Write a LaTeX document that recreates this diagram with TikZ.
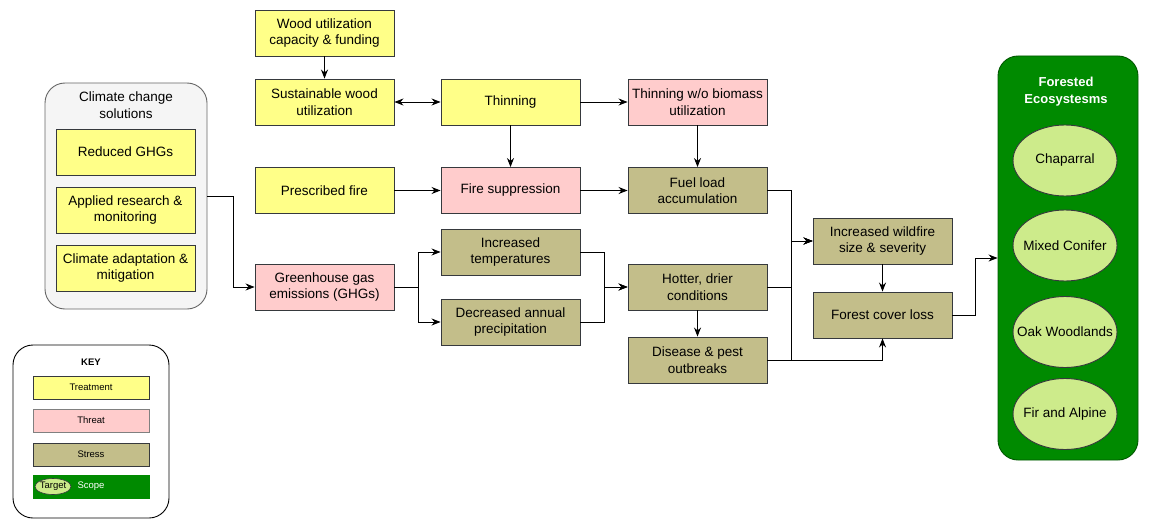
\documentclass[tikz,border=0pt]{standalone}
\usepackage{fontspec}
\setmainfont{Liberation Sans}
\usetikzlibrary{arrows.meta,shapes.geometric}
\definecolor{treatyellow}{HTML}{FFFF88}
\definecolor{threatpink}{HTML}{FFCCCC}
\definecolor{stresskhaki}{HTML}{C3BE8A}
\definecolor{scopegreen}{HTML}{008A00}
\definecolor{scopeline}{HTML}{005700}
\definecolor{targetgreen}{HTML}{CDEB8B}
\definecolor{boxline}{HTML}{36393D}
\definecolor{panelgray}{HTML}{F5F5F5}
\definecolor{panelline}{HTML}{666666}

\begin{document}
\begin{tikzpicture}[x=1pt, y=-1pt,
    font=\fontsize{13.5}{16.5}\selectfont,
    box/.style={draw=boxline, line width=0.9pt, minimum width=139pt, minimum height=46pt, align=center, inner sep=1pt},
    treatment/.style={box, fill=treatyellow},
    threat/.style={box, fill=threatpink},
    stress/.style={box, fill=stresskhaki},
    target/.style={ellipse, draw=boxline, line width=0.9pt, fill=targetgreen, minimum width=104pt, minimum height=71pt, inner sep=0pt},
    keybox/.style={draw=boxline, line width=0.8pt, minimum width=116pt, minimum height=23pt, inner sep=0pt, font=\fontsize{9.5}{11}\selectfont},
    arr/.style={-{Stealth[length=9pt,width=7pt]}, line width=0.9pt},
    dblarr/.style={{Stealth[length=9pt,width=7pt]}-{Stealth[length=9pt,width=7pt]}, line width=0.9pt}]
    \useasboundingbox (0,0) rectangle (1150,532);

    % Climate change solutions
    \node[draw=panelline, fill=panelgray, line width=0.9pt, rounded corners=20pt, minimum width=162pt, minimum height=226pt] (solpanel) at (126,196) {};
    \node[align=center] (soltitle) at (126,105) {Climate change\\solutions};
    \node[treatment] (reduced) at (125.5,152) {Reduced GHGs};
    \node[treatment] (research) at (125.5,210) {Applied research \&\\monitoring};
    \node[treatment] (adapt) at (125.5,268) {Climate adaptation \&\\mitigation};

    % Treatments and threats
    \node[treatment] (woodcap) at (324.5,33) {Wood utilization\\capacity \& funding};
    \node[treatment] (sustain) at (324.5,102) {Sustainable wood\\utilization};
    \node[treatment] (thinning) at (510.5,102) {Thinning};
    \node[threat] (thinnobio) at (697.5,102) {Thinning w/o biomass\\utilization};
    \node[treatment] (prescribed) at (324.5,190.5) {Prescribed fire};
    \node[threat] (suppress) at (510.5,190.5) {Fire suppression};
    \node[threat] (ghg) at (324.5,287) {Greenhouse gas\\emissions (GHGs)};

    % Stresses
    \node[stress] (fuel) at (697.5,190.5) {Fuel load\\accumulation};
    \node[stress] (temps) at (510.5,252) {Increased\\temperatures};
    \node[stress] (precip) at (510.5,322) {Decreased annual\\precipitation};
    \node[stress] (hotter) at (697.5,287) {Hotter, drier\\conditions};
    \node[stress] (disease) at (697.5,360) {Disease \& pest\\outbreaks};
    \node[stress] (wildfire) at (882.5,241) {Increased wildfire\\size \& severity};
    \node[stress] (loss) at (882.5,315) {Forest cover loss};

    % Forested ecosystems
    \node[draw=scopeline, fill=scopegreen, line width=0.9pt, rounded corners=20pt, minimum width=140pt, minimum height=404pt] (forestpanel) at (1068,258) {};
    \node[align=center, text=white, font=\fontsize{13}{17}\selectfont\bfseries] (foresttitle) at (1066,92) {Forested\\Ecosystesms};
    \node[target] (chaparral) at (1065,160.5) {\makebox[0pt]{Chaparral}};
    \node[target] (mixed) at (1065,245.5) {\makebox[0pt]{Mixed Conifer}};
    \node[target] (oak) at (1065,332) {\makebox[0pt]{Oak Woodlands}};
    \node[target] (fir) at (1065,414) {\makebox[0pt]{Fir and Alpine}};

    % Key
    \node[draw=black, fill=white, line width=0.9pt, rounded corners=20pt, minimum width=156pt, minimum height=173pt] (keypanel) at (91,431.5) {};
    \node[font=\fontsize{9.5}{11}\selectfont\bfseries] (keytitle) at (91,362) {KEY};
    \node[keybox, fill=treatyellow] (keytreat) at (91,387.5) {Treatment};
    \node[keybox, fill=threatpink, draw=gray] (keythreat) at (91,420.5) {Threat};
    \node[keybox, fill=stresskhaki] (keystress) at (91,454.5) {Stress};
    \node[keybox, fill=scopegreen, draw=scopegreen, text=white] (keyscope) at (91,486.5) {Scope};
    \node[ellipse, draw=boxline, line width=0.6pt, fill=targetgreen, minimum width=36pt, minimum height=16pt, inner sep=0pt, font=\fontsize{9.5}{11}\selectfont] (keytarget) at (53,486.5) {\makebox[0pt]{Target}};

    % Connectors
    \draw[arr] (woodcap) -- (sustain);
    \draw[dblarr] (sustain) -- (thinning);
    \draw[arr] (thinning) -- (thinnobio);
    \draw[arr] (thinning) -- (suppress);
    \draw[arr] (thinnobio) -- (fuel);
    \draw[arr] (prescribed) -- (suppress);
    \draw[arr] (suppress) -- (fuel);
    \draw[arr] (solpanel.east) -- ++(26,0) |- (ghg.west);
    \draw[arr] (ghg.east) -- ++(24,0) |- (temps.west);
    \draw[arr] (ghg.east) -- ++(24,0) |- (precip.west);
    \draw[arr] (temps.east) -- ++(24,0) |- (hotter.west);
    \draw[arr] (precip.east) -- ++(24,0) |- (hotter.west);
    \draw[arr] (hotter) -- (disease);
    \draw[arr] (fuel.east) -- ++(24,0) |- (wildfire.west);
    \draw[arr] (hotter.east) -- ++(24,0) |- (wildfire.west);
    \draw[arr] (disease.east) -- ++(24,0) |- (wildfire.west);
    \draw[arr] (disease.east) -| (loss.south);
    \draw[arr] (wildfire) -- (loss);
    \draw[arr] (loss.east) -- ++(23,0) |- (forestpanel.west);
\end{tikzpicture}
\end{document}
